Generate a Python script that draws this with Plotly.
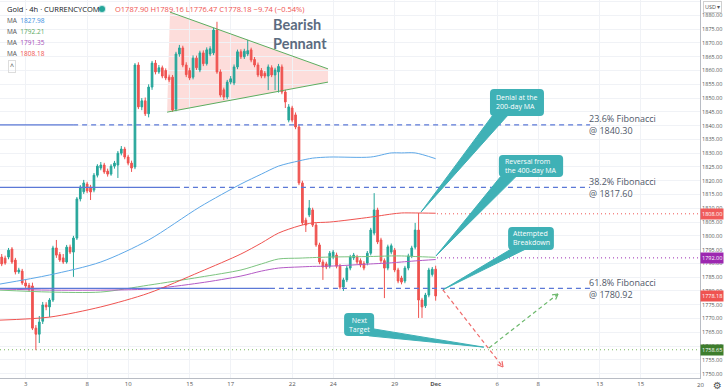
import math
import plotly.graph_objects as go

# ---------------- data ----------------
bar_index = list(range(1, 129))
opens = [1792.3, 1791.9, 1792.3, 1795.2, 1791.2, 1786.9, 1787.2, 1782.9, 1782.0, 1781.8,
         1766.5, 1764.3, 1769.0, 1774.9, 1774.2, 1776.7, 1795.6, 1793.2, 1792.0, 1790.5,
         1795.9, 1794.1, 1799.2, 1813.4, 1816.0, 1818.8, 1817.7, 1816.6, 1822.0, 1824.6,
         1825.7, 1823.5, 1822.4, 1825.3, 1825.7, 1830.0, 1831.5, 1828.6, 1826.4, 1825.0,
         1862.0, 1846.8, 1849.0, 1844.3, 1854.0, 1862.7, 1859.5, 1861.0, 1860.0, 1857.6,
         1857.6, 1846.0, 1866.0, 1868.2, 1862.0, 1860.0, 1857.6, 1864.5, 1860.2, 1866.4,
         1862.5, 1866.0, 1866.4, 1874.7, 1859.5, 1853.0, 1850.4, 1855.8, 1855.5, 1861.3,
         1866.8, 1865.0, 1866.0, 1867.5, 1864.0, 1862.0, 1860.0, 1859.0, 1858.0, 1861.0,
         1858.4, 1859.5, 1861.3, 1852.2, 1842.0, 1846.4, 1843.9, 1839.5, 1819.2, 1805.7,
         1807.6, 1809.4, 1803.9, 1796.7, 1790.5, 1789.8, 1789.0, 1792.3, 1793.0, 1789.0,
         1781.4, 1784.0, 1788.3, 1792.0, 1792.3, 1791.0, 1790.0, 1790.1, 1793.7, 1801.0,
         1809.4, 1798.5, 1791.0, 1788.3, 1794.1, 1794.8, 1787.6, 1784.7, 1783.6, 1788.3,
         1792.7, 1795.9, 1802.1, 1776.7, 1774.6, 1778.5, 1786.0, 1787.90]
highs = [1793.4, 1792.8, 1795.6, 1795.9, 1792.0, 1788.4, 1788.0, 1784.0, 1782.9, 1783.0,
         1767.6, 1770.9, 1776.0, 1775.9, 1777.4, 1796.4, 1798.5, 1794.1, 1793.4, 1796.7,
         1796.8, 1800.0, 1814.1, 1818.4, 1820.3, 1819.6, 1818.5, 1822.8, 1826.0, 1826.8,
         1826.5, 1824.4, 1826.0, 1827.2, 1830.8, 1832.6, 1832.3, 1829.4, 1827.3, 1862.7,
         1863.0, 1850.0, 1850.2, 1855.0, 1863.5, 1863.8, 1862.0, 1861.8, 1860.8, 1858.5,
         1858.4, 1866.8, 1869.3, 1869.0, 1863.0, 1861.0, 1865.5, 1865.4, 1867.2, 1867.3,
         1868.4, 1868.8, 1875.5, 1877.7, 1860.4, 1853.8, 1856.6, 1858.0, 1862.2, 1867.6,
         1867.7, 1867.9, 1871.1, 1868.3, 1864.9, 1862.9, 1860.9, 1859.8, 1862.2, 1861.9,
         1861.0, 1862.4, 1862.2, 1853.0, 1847.8, 1847.2, 1844.8, 1840.4, 1820.0, 1806.6,
         1813.0, 1810.2, 1804.8, 1797.5, 1791.4, 1790.6, 1794.5, 1794.9, 1793.9, 1789.8,
         1784.8, 1789.1, 1793.1, 1793.8, 1793.1, 1791.8, 1790.8, 1794.5, 1802.9, 1815.5,
         1810.2, 1799.3, 1791.8, 1796.8, 1797.2, 1795.6, 1788.4, 1785.5, 1789.1, 1793.5,
         1796.4, 1804.7, 1808.3, 1777.5, 1779.3, 1788.4, 1788.7, 1789.16]
lows = [1789.0, 1789.5, 1791.5, 1789.8, 1786.0, 1786.2, 1782.2, 1781.0, 1779.8, 1765.8,
        1758.5, 1761.1, 1768.0, 1773.0, 1770.5, 1776.0, 1792.0, 1790.5, 1789.8, 1789.9,
        1793.4, 1785.1, 1798.5, 1812.5, 1815.2, 1815.5, 1813.0, 1815.8, 1821.2, 1823.8,
        1822.5, 1821.5, 1821.8, 1824.4, 1821.0, 1829.2, 1827.8, 1825.6, 1823.2, 1824.2,
        1846.0, 1845.6, 1843.5, 1843.0, 1853.0, 1858.6, 1858.8, 1857.2, 1856.5, 1855.8,
        1845.0, 1845.2, 1865.0, 1861.2, 1857.6, 1856.5, 1856.8, 1860.2, 1859.4, 1861.6,
        1861.8, 1865.2, 1865.6, 1858.8, 1850.3, 1849.3, 1849.6, 1855.0, 1854.7, 1860.5,
        1864.2, 1864.2, 1865.2, 1863.0, 1861.2, 1857.6, 1857.2, 1857.2, 1852.9, 1857.6,
        1852.9, 1852.0, 1851.4, 1846.4, 1841.2, 1841.2, 1838.7, 1818.4, 1803.9, 1801.4,
        1806.8, 1803.2, 1796.0, 1789.7, 1784.0, 1787.9, 1788.2, 1791.5, 1788.2, 1780.6,
        1780.0, 1783.2, 1787.5, 1791.2, 1789.7, 1788.6, 1787.5, 1789.3, 1792.9, 1800.2,
        1797.0, 1790.2, 1777.4, 1787.5, 1793.3, 1786.8, 1782.8, 1782.4, 1782.8, 1787.5,
        1791.9, 1795.1, 1770.2, 1770.2, 1773.8, 1777.7, 1785.2, 1776.47]
closes = [1789.8, 1790.1, 1794.8, 1790.5, 1786.9, 1787.6, 1782.9, 1781.8, 1780.5, 1766.5,
          1764.3, 1768.7, 1774.9, 1774.2, 1776.7, 1795.6, 1793.0, 1791.2, 1790.5, 1795.9,
          1794.1, 1799.2, 1813.4, 1817.7, 1819.2, 1816.3, 1815.9, 1822.0, 1825.3, 1825.7,
          1823.2, 1822.4, 1825.3, 1826.4, 1830.0, 1831.5, 1828.6, 1826.4, 1824.6, 1862.0,
          1846.8, 1849.0, 1844.3, 1854.0, 1862.7, 1859.5, 1861.0, 1858.0, 1857.3, 1856.6,
          1845.7, 1866.0, 1868.2, 1862.0, 1858.5, 1857.3, 1864.5, 1861.0, 1866.4, 1862.5,
          1867.5, 1867.9, 1874.7, 1859.5, 1851.1, 1850.4, 1855.8, 1857.0, 1861.3, 1866.8,
          1865.0, 1867.0, 1867.2, 1863.8, 1862.0, 1858.4, 1858.0, 1858.0, 1861.3, 1858.4,
          1860.2, 1861.5, 1852.2, 1848.6, 1846.8, 1842.0, 1839.5, 1819.2, 1804.7, 1803.9,
          1810.1, 1803.9, 1796.7, 1790.5, 1788.7, 1788.7, 1793.7, 1794.1, 1789.0, 1781.4,
          1784.0, 1788.3, 1792.3, 1793.0, 1790.5, 1789.4, 1788.3, 1793.7, 1802.1, 1809.4,
          1797.8, 1791.0, 1788.3, 1796.0, 1796.4, 1787.6, 1783.6, 1783.2, 1788.3, 1792.7,
          1795.6, 1802.1, 1776.7, 1774.2, 1778.5, 1787.6, 1787.9, 1778.18]

ma_x = [0.5, 15, 30, 44, 59, 71, 77, 82, 88, 92, 97, 109, 115, 118, 122, 128]
ma_blue = [1782.5, 1785.8, 1790.5, 1798.5, 1810.5, 1818.8, 1822.4, 1825.3, 1827.2, 1828.2,
           1828.6, 1828.6, 1830.1, 1830.1, 1830.1, 1828.0]
ma_green = [1780.3, 1779.6, 1779.6, 1782.1, 1785.0, 1787.6, 1789.8, 1791.6, 1791.9, 1792.1,
            1792.3, 1792.5, 1792.7, 1792.7, 1792.5, 1792.2]
ma_purple = [1780.7, 1780.3, 1780.3, 1780.7, 1782.9, 1785.4, 1787.2, 1788.3, 1788.7, 1788.9,
             1789.0, 1789.8, 1790.2, 1790.5, 1790.9, 1791.4]
ma_red = [1769.4, 1770.5, 1774.2, 1779.2, 1786.9, 1793.4, 1797.4, 1801.0, 1803.6, 1804.7,
          1805.0, 1806.8, 1807.9, 1808.3, 1808.3, 1808.2]
ma_last = ["1827.98", "1792.21", "1791.35", "1808.18"]

tick_bars = [8, 26, 38, 56, 68, 86, 98, 116, 128, 146, 158, 176, 188]
tick_text = ["3", "8", "10", "15", "17", "22", "24", "29", "<b>Dec</b>", "6", "8", "13", "15"]

fib_names = ["23.6%", "38.2%", "61.8%"]
fib_levels = [1840.30, 1817.60, 1780.92]
level_prices = [1808.00, 1792.00, 1778.18, 1758.65]

# ---------------- style ----------------
XR = [0.5, 205.36]
YR = [1748.4, 1885.6]
PW, PH = 700, 378
KX = PW / (XR[1] - XR[0])
KY = PH / (YR[1] - YR[0])
UP, DN = "#26a69a", "#ef5350"
C_BLUE, C_GREEN, C_PURPLE, C_RED = "#5ea8e8", "#7cc47f", "#b45ac6", "#ef5350"
FIB = "#5b78d6"
TEAL = "#3fb1b6"
FONT = "Open Sans"

fig = go.Figure()
fig.add_trace(go.Candlestick(
    x=bar_index, open=opens, high=highs, low=lows, close=closes,
    increasing=dict(line=dict(color=UP, width=1), fillcolor=UP),
    decreasing=dict(line=dict(color=DN, width=1), fillcolor=DN),
    whiskerwidth=0, hoverinfo="skip", showlegend=False))

for vals, col in [(ma_blue, C_BLUE), (ma_green, C_GREEN), (ma_purple, C_PURPLE), (ma_red, C_RED)]:
    fig.add_trace(go.Scatter(x=ma_x, y=vals, mode="lines", hoverinfo="skip", showlegend=False,
                             line=dict(color=col, width=1, shape="spline", smoothing=0.8)))

shapes = []
annotations = []

# pennant
pen = [(50.25, 1881.2), (96.5, 1860.6), (96.5, 1855.8), (49.4, 1844.9)]
path = "M " + " L ".join(f"{x},{y}" for x, y in pen) + " Z"
shapes.append(dict(type="path", path=path, xref="x", yref="y", fillcolor="rgba(244,67,54,0.18)",
                   line=dict(width=0), layer="below"))
shapes.append(dict(type="line", x0=50.25, y0=1881.2, x1=96.5, y1=1860.6, xref="x", yref="y",
                   line=dict(color="#5cad5f", width=1)))
shapes.append(dict(type="line", x0=49.4, y0=1844.9, x1=96.5, y1=1855.8, xref="x", yref="y",
                   line=dict(color="#5cad5f", width=1)))
annotations.append(dict(x=88.3, y=1873.3, xref="x", yref="y", text="<b>Bearish<br>Pennant</b>",
                        showarrow=False, font=dict(family="Lato", size=14.5, color="#5b6b80"),
                        align="left", xanchor="center", yanchor="middle"))

# fibonacci levels
solid_end = [21.9, 51.7, 79.5]
for name, lvl, se in zip(fib_names, fib_levels, solid_end):
    shapes.append(dict(type="line", x0=XR[0], x1=se, y0=lvl, y1=lvl, xref="x", yref="y",
                       line=dict(color=FIB, width=1.3)))
    shapes.append(dict(type="line", x0=se, x1=173.2, y0=lvl, y1=lvl, xref="x", yref="y",
                       line=dict(color=FIB, width=1.3, dash="5px,4px")))
    annotations.append(dict(x=172.3, y=lvl, xref="x", yref="y", xanchor="left", yanchor="middle",
                            text=f"{name} Fibonacci<br>@ {lvl:.2f}", showarrow=False, align="left",
                            font=dict(family=FONT, size=9, color="#4f5868")))

# dotted level lines + price labels
dot_cols = [C_RED, "#9c27b0", None, "#7bb661"]
lab_cols = ["#f05a5a", "#9c27b0", "#ef5350", "#3d7d2c"]
for p, dc, lc in zip(level_prices, dot_cols, lab_cols):
    if dc is not None:
        x0 = XR[0] if p < 1760 else 128.4
        shapes.append(dict(type="line", x0=x0, x1=XR[1], y0=p, y1=p, xref="x", yref="y",
                           line=dict(color=dc, width=1, dash="1px,3px")))
    annotations.append(dict(x=1.0, y=p, xref="paper", yref="y", xanchor="left", yanchor="middle",
                            text=f"{p:.2f}", showarrow=False, bgcolor=lc, borderpad=1,
                            font=dict(family=FONT, size=5.5, color="white")))


def rrect(x0, x1, y0, y1):
    rx, ry = 4 / KX, 4 / KY
    return (f"M {x0+rx},{y1} L {x1-rx},{y1} Q {x1},{y1} {x1},{y1-ry} L {x1},{y0+ry} "
            f"Q {x1},{y0} {x1-rx},{y0} L {x0+rx},{y0} Q {x0},{y0} {x0},{y0+ry} "
            f"L {x0},{y1-ry} Q {x0},{y1} {x0+rx},{y1} Z")


callouts = [
    ("Denial at the<br>200-day MA", (143.9, 159.7, 1843.5, 1853.3), [(144.6, 1843.6), (149.0, 1843.6)], (123.7, 1808.6)),
    ("Reversal from<br>the 400-day MA", (146.5, 165.3, 1821.4, 1829.3), [(147.0, 1821.5), (151.5, 1821.5)], (128.1, 1792.7)),
    ("Attempted<br>Breakdown", (149.2, 162.6, 1794.9, 1803.2), [(149.8, 1795.0), (154.0, 1795.0)], (130.1, 1780.4)),
    ("Next<br>Target", (101.2, 110.0, 1763.6, 1772.0), [(109.9, 1766.2), (108.4, 1763.7)], (142.1, 1759.6)),
]
for txt, (x0, x1, y0, y1), base, tip in callouts:
    shapes.append(dict(type="path", path=rrect(x0, x1, y0, y1), xref="x", yref="y",
                       fillcolor=TEAL, line=dict(width=0)))
    tri = f"M {base[0][0]},{base[0][1]} L {tip[0]},{tip[1]} L {base[1][0]},{base[1][1]} Z"
    shapes.append(dict(type="path", path=tri, xref="x", yref="y", fillcolor=TEAL,
                       line=dict(color=TEAL, width=1)))
    annotations.append(dict(x=(x0 + x1) / 2, y=(y0 + y1) / 2, xref="x", yref="y", text=txt,
                            showarrow=False, align="center" if "Next" in txt else "left",
                            xanchor="center", yanchor="middle",
                            font=dict(family=FONT, size=7, color="white")))


def dashed_arrow(x0, y0, x1, y1, col):
    shapes.append(dict(type="line", x0=x0, y0=y0, x1=x1, y1=y1, xref="x", yref="y",
                       line=dict(color=col, width=1.2, dash="4px,3px")))
    dxp, dyp = (x1 - x0) * KX, (y1 - y0) * KY
    L = math.hypot(dxp, dyp)
    ux, uy = -dxp / L, -dyp / L
    for a in (0.5, -0.5):
        bx = ux * math.cos(a) - uy * math.sin(a)
        by = ux * math.sin(a) + uy * math.cos(a)
        shapes.append(dict(type="line", x0=x1, y0=y1, x1=x1 + bx * 6 / KX, y1=y1 + by * 6 / KY,
                           xref="x", yref="y", line=dict(color=col, width=1.2)))


dashed_arrow(130.1, 1780.4, 147.7, 1752.4, "#ef6b6b")
dashed_arrow(143.6, 1759.3, 163.8, 1778.9, "#6cb86c")


def px(xp):
    return xp / PW


def py(yp):
    return 1 - yp / PH


annotations.append(dict(x=px(5), y=py(9), xref="paper", yref="paper", xanchor="left", yanchor="middle",
                        text="Gold · 4h · CURRENCYCOM", showarrow=False,
                        font=dict(family=FONT, size=7.5, color="#131722")))
shapes.append(dict(type="circle", xref="paper", yref="paper", x0=px(99), x1=px(105), y0=py(12), y1=py(6),
                   fillcolor=UP, line=dict(color="rgba(38,166,154,0.25)", width=2)))
annotations.append(dict(x=px(113), y=py(9), xref="paper", yref="paper", xanchor="left", yanchor="middle",
                        text="O1787.90 H1789.16 L1776.47 C1778.18 −9.74 (−0.54%)", showarrow=False,
                        font=dict(family=FONT, size=7.5, color="#ef5350")))
for k, (val, col) in enumerate(zip(ma_last, ["#3d8fe0", "#5aa85d", "#a44cb8", "#ef5350"])):
    yy = 20 + k * 11.3
    annotations.append(dict(x=px(5), y=py(yy), xref="paper", yref="paper", xanchor="left", yanchor="middle",
                            text=f"<span style='color:#555'>MA</span>  {val}", showarrow=False,
                            font=dict(family=FONT, size=6.5, color=col)))
annotations.append(dict(x=px(12), y=py(66), xref="paper", yref="paper", xanchor="center", yanchor="middle",
                        text="^", showarrow=False, bordercolor="#dddddd", borderwidth=1, borderpad=1,
                        font=dict(family=FONT, size=7, color="#444")))
annotations.append(dict(x=px(713), y=py(7), xref="paper", yref="paper", xanchor="center", yanchor="middle",
                        text="USD ▾", showarrow=False, bordercolor="#d0d0d0", borderwidth=1, borderpad=1,
                        font=dict(family=FONT, size=5.5, color="#555")))
annotations.append(dict(x=1.0, y=py(385), xref="paper", yref="paper", xanchor="center", yanchor="middle",
                        text="20", showarrow=False, font=dict(family=FONT, size=6, color="#555")))
annotations.append(dict(x=px(717), y=py(385), xref="paper", yref="paper", xanchor="center", yanchor="middle",
                        text="⚙", showarrow=False, font=dict(family="DejaVu Sans", size=10, color="#555")))

fig.update_layout(
    width=728, height=391, margin=dict(l=0, r=28, t=0, b=13),
    paper_bgcolor="white", plot_bgcolor="white",
    shapes=shapes, annotations=annotations, showlegend=False,
    xaxis=dict(range=XR, tickvals=tick_bars, ticktext=tick_text, showgrid=True, gridcolor="#f0f2f6",
               zeroline=False, showline=True, linecolor="#b8bcc4", linewidth=1, ticks="",
               tickfont=dict(family=FONT, size=6, color="#555"), rangeslider=dict(visible=False),
               fixedrange=True),
    yaxis=dict(range=YR, side="right", dtick=5, tick0=1750, tickformat=".2f", showgrid=True,
               gridcolor="#f0f2f6", zeroline=False, showline=True, linecolor="#b8bcc4", linewidth=1,
               ticks="", tickfont=dict(family=FONT, size=5.5, color="#555"), fixedrange=True),
)

fig.write_html("out.html", config={"displayModeBar": False},
               post_script="document.body.style.margin='0';document.body.style.overflow='hidden';")
